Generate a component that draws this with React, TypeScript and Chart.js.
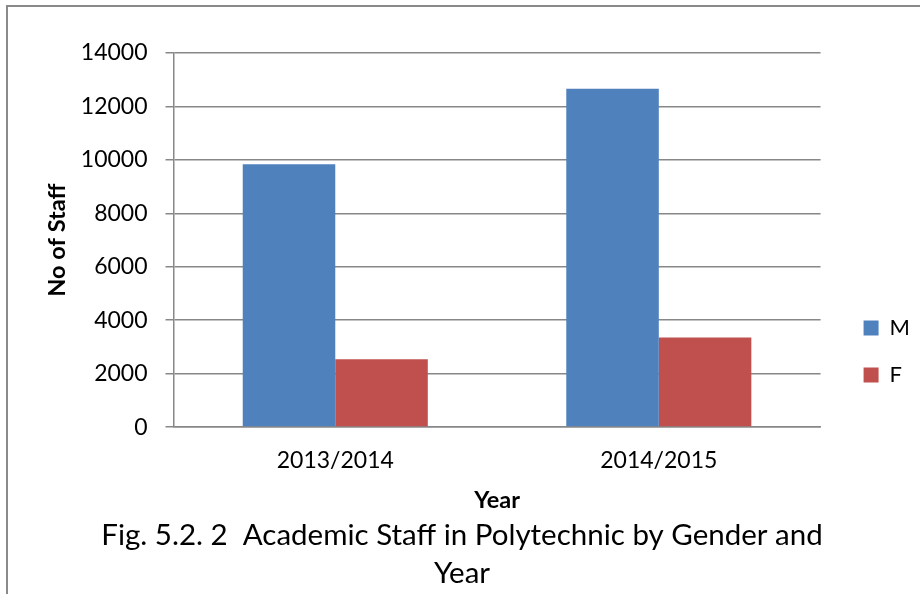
import React, { useEffect, useRef } from 'react';
import { Chart, registerables } from 'chart.js';

Chart.register(...registerables);

const categories = ['2013/2014', '2014/2015'];
const seriesNames = ['M', 'F'];
const maleValues = [9840, 12660];
const femaleValues = [2540, 3350];
const seriesColors = ['#4F81BD', '#C0504D'];
const yMin = 0;
const yMax = 14000;
const yStep = 2000;
const yAxisTitle = 'No of Staff';
const xAxisTitle = 'Year';
const captionLines = ['Fig. 5.2. 2  Academic Staff in Polytechnic by Gender and', 'Year'];

const FONT = 'Lato, "Liberation Sans", sans-serif';
const GRID = '#888888';

export default function App() {
  const ref = useRef<HTMLCanvasElement | null>(null);

  useEffect(() => {
    if (!ref.current) return;
    const chart = new Chart(ref.current, {
      type: 'bar',
      data: {
        labels: categories,
        datasets: [
          {
            label: seriesNames[0],
            data: maleValues,
            backgroundColor: seriesColors[0],
            barPercentage: 1,
            categoryPercentage: 0.572,
          },
          {
            label: seriesNames[1],
            data: femaleValues,
            backgroundColor: seriesColors[1],
            barPercentage: 1,
            categoryPercentage: 0.572,
          },
        ],
      },
      options: {
        responsive: false,
        animation: false,
        layout: { padding: { left: 4, right: 0, top: 53, bottom: 1 } },
        plugins: {
          tooltip: { enabled: false },
          legend: {
            position: 'right',
            align: 'center',
            title: { display: true, text: ' ', font: { size: 10 }, padding: { top: 45, bottom: 0 } },
            labels: {
              boxWidth: 15,
              boxHeight: 15,
              padding: 25,
              color: '#000',
              font: { family: FONT, size: 22 },
            },
          },
          title: {
            display: true,
            position: 'bottom',
            text: captionLines,
            color: '#000',
            font: { family: FONT, size: 29.5, weight: 'normal', lineHeight: 1.29 },
            padding: { top: 0, bottom: 0 },
          },
        },
        scales: {
          x: {
            grid: { display: false },
            border: { display: true, color: GRID, width: 1.5 },
            ticks: { color: '#000', font: { family: FONT, size: 23 }, padding: 12 },
            title: {
              display: true,
              text: xAxisTitle,
              color: '#000',
              font: { family: FONT, size: 23.5, weight: 'bold' },
              padding: { top: 0, bottom: 2 },
            },
          },
          y: {
            min: yMin,
            max: yMax,
            ticks: {
              stepSize: yStep,
              color: '#000',
              font: { family: FONT, size: 23 },
              padding: 18,
              callback: (v: any) => String(v),
            },
            grid: { color: GRID, lineWidth: 1.5, tickLength: 8 },
            border: { display: true, color: GRID, width: 1.5 },
            title: {
              display: true,
              text: yAxisTitle,
              color: '#000',
              font: { family: FONT, size: 23.5, weight: 'bold' },
              padding: { top: 39, bottom: 6 },
            },
            afterFit: (s: any) => {
              s.width = 169.5;
            },
          },
          gap: {
            type: 'linear',
            position: 'right',
            display: true,
            grid: { display: false, drawOnChartArea: false },
            border: { display: false },
            ticks: { display: false },
            afterFit: (s: any) => {
              s.width = 18;
            },
          },
        },
      },
    });
    return () => chart.destroy();
  }, []);

  return (
    <div style={{ position: 'fixed', left: 0, top: 0, width: 920, height: 594, background: '#fff', overflow: 'hidden' }}>
      <canvas ref={ref} width={920} height={594} style={{ position: 'absolute', left: 0, top: 0 }} />
      <div
        style={{
          position: 'absolute',
          left: 6,
          top: 5,
          width: 2000,
          height: 2000,
          borderLeft: '2px solid #8a8a8a',
          borderTop: '2px solid #8a8a8a',
          pointerEvents: 'none',
        }}
      />
    </div>
  );
}
